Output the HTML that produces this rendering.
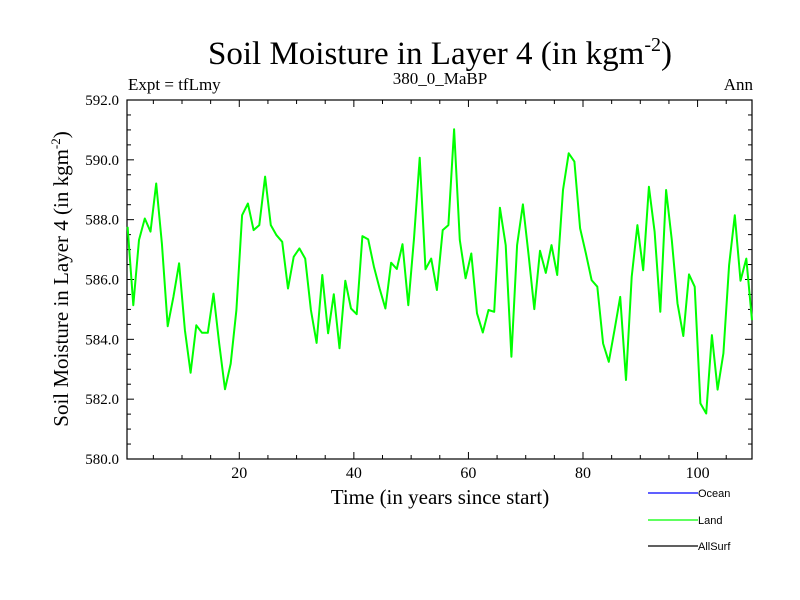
<!DOCTYPE html>
<html><head><meta charset="utf-8"><style>
body{margin:0;background:#fff;}
svg{display:block;font-family:"Liberation Serif",serif;}
</style></head><body>
<svg id="chart" width="800" height="600" viewBox="0 0 800 600">
<rect width="800" height="600" fill="#fff"/>
<text x="440" y="64" text-anchor="middle" font-size="33">Soil Moisture in Layer 4 (in kgm<tspan dy="-13" font-size="20">-2</tspan><tspan dy="13">)</tspan></text>
<text x="128" y="90" font-size="17">Expt = tfLmy</text>
<text x="440" y="84" text-anchor="middle" font-size="17">380_0_MaBP</text>
<text x="753" y="90" text-anchor="end" font-size="17">Ann</text>
<text transform="translate(68,279) rotate(-90)" text-anchor="middle" font-size="21">Soil Moisture in Layer 4 (in kgm<tspan dy="-8" font-size="13">-2</tspan><tspan dy="8">)</tspan></text>
<text x="440" y="504" text-anchor="middle" font-size="21">Time (in years since start)</text>
<g id="axes"></g>
<g id="series"></g>
<g font-family="'Liberation Sans',sans-serif" font-size="11">
<line x1="648" y1="493" x2="698" y2="493" stroke="#0000ff" stroke-width="1.3"/>
<text x="698" y="497">Ocean</text>
<line x1="648" y1="520" x2="698" y2="520" stroke="#00ff00" stroke-width="1.3"/>
<text x="698" y="524">Land</text>
<line x1="648" y1="546" x2="698" y2="546" stroke="#000" stroke-width="1.3"/>
<text x="698" y="550">AllSurf</text>
</g>
</svg>
<script>
const xTicks = [20, 40, 60, 80, 100];
const yTicks = [580, 582, 584, 586, 588, 590, 592];
const yTickLabels = ["580.0","582.0","584.0","586.0","588.0","590.0","592.0"];
const landValues = [587.76,585.14,587.32,588.04,587.6,589.21,587.2,584.44,585.42,586.54,584.31,582.88,584.47,584.22,584.22,585.53,583.86,582.33,583.19,584.98,588.15,588.54,587.65,587.82,589.44,587.82,587.48,587.26,585.7,586.76,587.04,586.7,584.98,583.88,586.15,584.2,585.51,583.7,
585.96,585.03,584.84,587.45,587.34,586.43,585.7,585.03,586.56,586.35,587.18,585.14,587.37,590.07,586.34,586.7,585.65,587.65,587.82,591.02,587.32,586.04,586.87,584.87,584.23,584.98,584.92,588.4,587.15,583.42,587.15,588.51,586.82,585.01,586.96,586.22,
587.15,586.15,588.99,590.22,589.94,587.71,586.87,585.98,585.76,583.86,583.25,584.31,585.42,582.64,586.09,587.82,586.31,589.1,587.6,584.92,588.99,587.32,585.2,584.11,586.17,585.76,581.86,581.52,584.14,582.32,583.53,586.48,588.15,585.96,586.7,584.64];
const L=127,R=752,T=100,B=459, X0=0.4, X1=109.5, Y0=580, Y1=592;
const sx=v=>L+(v-X0)/(X1-X0)*(R-L);
const sy=v=>B-(v-Y0)/(Y1-Y0)*(B-T);
const NS="http://www.w3.org/2000/svg";
const axes=document.getElementById('axes');
function mk(tag,attrs,parent){const e=document.createElementNS(NS,tag);for(const k in attrs)e.setAttribute(k,attrs[k]);parent.appendChild(e);return e;}
const frame=mk('rect',{x:L,y:T,width:R-L,height:B-T,fill:'none',stroke:'#000','stroke-width':1.2},axes);


for(let v=5; v<=X1; v+=5){
  const major = xTicks.includes(v); const len = major?7:4; const x=sx(v);
  const t1=mk('line',{x1:x,y1:B,x2:x,y2:B-len,stroke:'#000','stroke-width':1},axes);
  
  
  const t2=mk('line',{x1:x,y1:T,x2:x,y2:T+len,stroke:'#000','stroke-width':1},axes);
  
  
}
xTicks.forEach(v=>{
  const t=mk('text',{x:sx(v),y:B+19,'text-anchor':'middle','font-size':16},axes);
  t.textContent=v;
  
  
});
for(let v=Y0; v<=Y1+0.001; v+=0.5){
  const major = Math.abs(v-Math.round(v/2)*2)<0.01; const len = major?7:4; const y=sy(v);
  const t1=mk('line',{x1:L,y1:y,x2:L+len,y2:y,stroke:'#000','stroke-width':1},axes);
  
  
  const t2=mk('line',{x1:R,y1:y,x2:R-len,y2:y,stroke:'#000','stroke-width':1},axes);
  
  
}
yTicks.forEach((v,i)=>{
  const t=mk('text',{x:L-8,y:sy(v)+5,'text-anchor':'end','font-size':15},axes);
  t.textContent=yTickLabels[i];
  
  
});
const pts=landValues.map((v,i)=>sx(i+0.5).toFixed(1)+','+sy(v).toFixed(1)).join(' ');
const line=mk('polyline',{points:pts,fill:'none',stroke:'#00ff00','stroke-width':2,'stroke-linejoin':'round'},document.getElementById('series'));


</script>
</body></html>
